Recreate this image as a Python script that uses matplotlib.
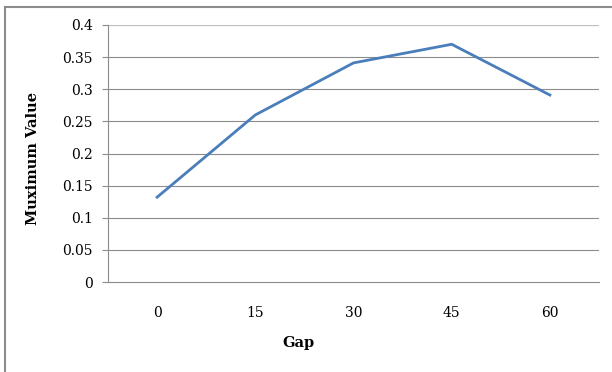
import matplotlib
matplotlib.use("Agg")
import matplotlib.pyplot as plt
from matplotlib.lines import Line2D

categories = ["0", "15", "30", "45", "60"]
values = [0.132, 0.26, 0.341, 0.370, 0.291]
yticks = [0, 0.05, 0.1, 0.15, 0.2, 0.25, 0.3, 0.35, 0.4]
ytick_labels = ["0", "0.05", "0.1", "0.15", "0.2", "0.25", "0.3", "0.35", "0.4"]

W, H = 612, 372
fig = plt.figure(figsize=(W / 100, H / 100), dpi=100)
plt.rcParams['font.family'] = ['DejaVu Serif']

# outer border (left + top visible)
fig.add_artist(Line2D([4.5 / W, 4.5 / W], [0, 1 - 6.5 / H], transform=fig.transFigure,
                      color="#8c8c8c", lw=1.5))
fig.add_artist(Line2D([4.5 / W, 1], [1 - 6.5 / H, 1 - 6.5 / H], transform=fig.transFigure,
                      color="#8c8c8c", lw=1.5))

left, right, top, bottom = 108, 599, 25, 282
ax = fig.add_axes([left / W, 1 - bottom / H, (right - left) / W, (bottom - top) / H])

x = list(range(len(categories)))
ax.plot(x, values, color="#4A7EBB", lw=2.0, solid_joinstyle="miter", zorder=3)

ax.set_xlim(-0.5, len(categories) - 0.5)
ax.set_ylim(0, 0.4)
ax.set_yticks(yticks)
ax.set_yticklabels(ytick_labels, fontsize=10)
ax.set_xticks(x)
ax.set_xticklabels(categories, fontsize=10)
ax.tick_params(axis="x", length=0, pad=17)
ax.tick_params(axis="y", length=4, width=0.8, color="#8c8c8c", pad=7)

for y in yticks[1:]:
    ax.axhline(y, color="#8c8c8c", lw=0.8, zorder=1)
ax.axhline(0.4, color="#c0c0c0", lw=1.5, zorder=1)

for s in ["top", "right"]:
    ax.spines[s].set_visible(False)
ax.spines["left"].set_color("#8c8c8c")
ax.spines["bottom"].set_color("#8c8c8c")
ax.spines["left"].set_linewidth(0.8)
ax.spines["bottom"].set_linewidth(0.8)

fig.text(298 / W, 1 - 343 / H, "Gap", ha="center", va="center", fontsize=10.5, fontweight="bold")
fig.text(33 / W, 1 - 158 / H, "Muximum Value", ha="center", va="center", rotation=90,
         fontsize=10.5, fontweight="bold")

fig.savefig("out.png", dpi=100)
